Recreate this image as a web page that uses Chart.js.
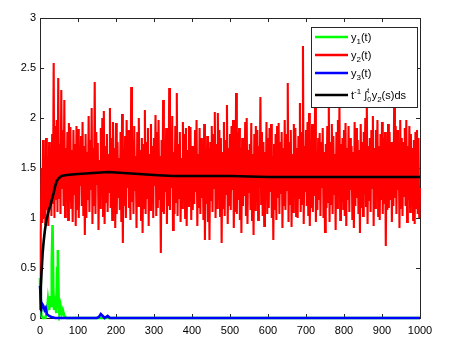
<!DOCTYPE html>
<html>
<head>
<meta charset="utf-8">
<script src="https://cdn.jsdelivr.net/npm/chart.js@4.4.0/dist/chart.umd.min.js"></script>
<style>
html, body { margin: 0; padding: 0; background: #fff; }
</style>
</head>
<body>
<canvas id="chartSolution" width="460" height="351"></canvas>
<script>
// y2(t): upper swings at t = 0, 4, 8, ... and lower swings at t = 2, 6, 10, ...
const y2Highs = [
  0.25, 1.50, 1.78, 1.55, 1.80, 1.62, 1.76, 1.70, 1.84, 2.55,
  1.92, 1.98, 2.40, 1.74, 2.28, 1.88, 2.18, 1.70, 1.86, 1.95,
  1.91, 1.68, 1.88, 1.74, 1.92, 1.89, 1.60, 1.82, 1.96, 1.72,
  1.84, 1.66, 2.02, 1.78, 2.10, 1.70, 2.36, 1.86, 1.75, 1.58,
  1.90, 2.00, 2.07, 1.72, 1.84, 1.64, 2.10, 1.80, 1.96, 1.70,
  1.95, 1.76, 1.60, 1.86, 2.04, 1.70, 1.82, 1.98, 1.88, 1.66,
  2.31, 1.78, 1.92, 1.62, 1.86, 2.00, 1.68, 1.80, 1.74, 2.08,
  1.76, 1.90, 1.64, 1.94, 1.72, 1.80, 2.03, 1.86, 1.98, 1.62,
  1.78, 2.18, 1.70, 1.90, 1.82, 2.30, 1.88, 2.02, 1.66, 1.92,
  2.25, 1.74, 1.86, 1.60, 1.96, 1.84, 1.90, 1.68, 1.92, 1.91,
  1.72, 1.66, 1.88, 1.98, 1.64, 1.90, 1.80, 1.70, 1.94, 1.62,
  1.82, 1.70, 1.76, 1.92, 1.84, 2.06, 1.74, 2.05, 1.88, 1.80,
  1.66, 1.96, 1.78, 2.13, 1.70, 1.84, 1.92, 1.98, 1.64, 2.25,
  1.86, 1.90, 1.70, 1.80, 1.76, 1.96, 2.00, 1.68, 1.74, 1.95,
  1.64, 1.84, 1.92, 1.88, 1.72, 2.21, 1.86, 1.76, 1.66, 1.96,
  1.80, 1.90, 1.94, 1.62, 1.74, 1.84, 1.92, 1.95, 1.76, 1.86,
  1.70, 1.98, 1.84, 2.35, 1.76, 1.88, 1.64, 1.94, 1.90, 1.70,
  1.82, 2.15, 1.86, 2.72, 1.72, 1.88, 1.96, 2.05, 1.68, 1.94,
  1.84, 2.20, 1.64, 1.80, 1.85, 1.76, 1.90, 1.66, 1.74, 1.92,
  2.15, 1.76, 1.94, 1.82, 1.64, 1.86, 1.98, 2.12, 1.74, 1.80,
  1.88, 1.95, 1.70, 1.92, 1.80, 1.72, 1.66, 1.96, 1.90, 1.78,
  1.68, 1.94, 1.76, 1.86, 2.00, 2.20, 1.72, 1.80, 1.88, 2.02,
  1.70, 1.88, 1.98, 1.72, 1.84, 1.96, 1.80, 1.86, 1.62, 1.94,
  1.86, 1.76, 1.70, 2.15, 1.92, 1.88, 1.66, 1.98, 1.80, 1.76,
  1.90, 1.98, 1.72, 1.92, 1.84, 1.70, 1.78, 1.86, 1.88, 1.80,
  1.30
];
const y2Lows = [
  0.85, 0.95, 1.00, 0.93, 1.08, 0.92, 1.10, 1.02, 1.14, 1.00,
  1.18, 1.06, 1.20, 1.04, 1.30, 1.12, 1.01, 1.22, 0.98, 1.16,
  1.10, 0.96, 1.24, 0.92, 1.08, 1.00, 1.32, 1.12, 1.02, 0.83,
  1.00, 1.18, 1.06, 1.28, 0.94, 1.12, 1.04, 1.34, 0.88, 1.10,
  1.22, 1.02, 0.94, 1.16, 1.06, 1.26, 1.10, 0.98, 1.18, 0.90,
  1.04, 1.20, 1.08, 0.96, 0.75, 1.12, 1.00, 1.30, 1.10, 0.98,
  1.16, 1.04, 1.28, 0.90, 1.12, 1.22, 0.98, 0.85, 1.10, 1.04,
  1.20, 0.92, 1.08, 1.14, 1.00, 1.32, 1.02, 1.10, 1.18, 0.65,
  1.06, 1.04, 1.26, 0.94, 1.12, 1.08, 1.30, 0.88, 1.04, 1.16,
  1.02, 1.20, 0.96, 1.10, 1.24, 1.00, 0.92, 1.12, 1.28, 0.98,
  1.08, 1.14, 1.26, 0.92, 1.10, 1.04, 1.20, 0.98, 0.78, 1.14,
  0.96, 0.78, 1.18, 1.06, 1.30, 1.00, 1.10, 1.18, 1.02, 0.75,
  1.10, 1.02, 1.24, 0.94, 1.12, 1.08, 1.28, 0.90, 1.06, 1.04,
  1.18, 0.98, 0.85, 1.12, 1.22, 1.02, 0.94, 1.26, 1.08, 0.98,
  0.83, 1.08, 1.20, 0.98, 1.30, 1.14, 1.02, 0.92, 1.18, 1.04,
  1.10, 1.26, 1.00, 0.78, 1.08, 0.98, 1.20, 1.04, 1.24, 0.90,
  1.12, 1.08, 1.28, 0.96, 1.14, 0.91, 1.06, 1.22, 1.02, 1.00,
  1.20, 1.06, 1.14, 0.94, 1.26, 1.12, 1.02, 0.92, 1.10, 1.06,
  1.22, 0.96, 1.08, 1.18, 1.02, 1.30, 1.00, 0.86, 1.10, 1.16,
  0.96, 1.14, 1.04, 1.24, 0.88, 1.10, 1.20, 0.98, 1.16, 1.08,
  1.02, 0.92, 1.18, 1.06, 1.28, 0.98, 0.90, 1.12, 1.20, 1.04,
  0.85, 1.10, 1.02, 1.24, 1.12, 0.94, 1.18, 1.06, 1.30, 0.92,
  1.10, 1.22, 1.02, 0.98, 1.18, 1.04, 1.14, 0.72, 1.08, 1.10,
  1.18, 0.96, 1.12, 1.20, 1.04, 1.28, 0.90, 1.10, 1.02, 1.22,
  1.12, 0.96, 1.18, 1.06, 1.24, 0.98, 0.94, 1.10, 1.04, 1.00
];

// y1(t): a few short bursts near the start, then zero
const y1Points = [
  [0, 0.40], [2, 0.12], [4, 0.02], [8, 0.0], [14, 0.0], [18, 0.05],
  [21, 0.18], [24, 0.08], [27, 0.22], [29, 0.12], [31, 0.55], [33, 0.93],
  [35, 0.30], [37, 0.08], [40, 0.15], [43, 0.05], [45, 0.50], [47, 0.68],
  [49, 0.20], [51, 0.05], [54, 0.12], [57, 0.04], [60, 0.08], [64, 0.02],
  [70, 0.0], [1000, 0.0]
];

// y3(t)
const y3Points = [
  [0, 0.32], [2, 0.20], [4, 0.10], [6, 0.14], [9, 0.12], [12, 0.08],
  [15, 0.10], [18, 0.04], [24, 0.02], [30, 0.01], [40, 0.0], [150, 0.0],
  [155, 0.01], [160, 0.04], [165, 0.02], [170, 0.0], [178, 0.02], [184, 0.0],
  [1000, 0.0]
];

// time average of y2
const avgPoints = [
  [0, 0.08], [2, 0.30], [4, 0.45], [7, 0.65], [10, 0.78], [13, 0.88],
  [17, 0.98], [22, 1.06], [27, 1.12], [31, 1.18], [36, 1.25], [40, 1.32],
  [44, 1.37], [50, 1.40], [57, 1.42], [70, 1.43], [100, 1.44], [140, 1.45],
  [180, 1.46], [220, 1.45], [260, 1.44], [300, 1.43], [350, 1.42], [400, 1.42],
  [500, 1.42], [600, 1.41], [700, 1.41], [800, 1.41], [900, 1.41], [1000, 1.41]
];

const xTicks = [0, 100, 200, 300, 400, 500, 600, 700, 800, 900, 1000];
const yTicks = [0, 0.5, 1, 1.5, 2, 2.5, 3];

const axisColor = '#262626';
const fontFamily = '"Liberation Sans", Arial, sans-serif';

const toXY = (pts) => pts.map(p => ({ x: p[0], y: p[1] }));

// put the swings back in time order: high at 4k, low at 4k+2
let y2Data = [];
y2Highs.forEach((v, i) => {
  y2Data.push({ x: i * 4, y: v });
  if (i < y2Lows.length) y2Data.push({ x: i * 4 + 2, y: y2Lows[i] });
});

// box + inward ticks, MATLAB style
const boxPlugin = {
  id: 'boxPlugin',
  beforeDatasetsDraw(chart) {
    const ctx = chart.ctx;
    const a = chart.chartArea;
    const xs = chart.scales.x, ys = chart.scales.y;
    ctx.save();
    ctx.strokeStyle = axisColor;
    ctx.lineWidth = 1;
    ctx.strokeRect(a.left + 0.5, a.top + 0.5, a.right - a.left, a.bottom - a.top);
    ctx.beginPath();
    xTicks.forEach(t => {
      const px = Math.round(xs.getPixelForValue(t)) + 0.5;
      ctx.moveTo(px, a.bottom); ctx.lineTo(px, a.bottom - 4);
      ctx.moveTo(px, a.top); ctx.lineTo(px, a.top + 4);
    });
    yTicks.forEach(t => {
      const py = Math.round(ys.getPixelForValue(t)) + 0.5;
      ctx.moveTo(a.left, py); ctx.lineTo(a.left + 4, py);
      ctx.moveTo(a.right, py); ctx.lineTo(a.right - 4, py);
    });
    ctx.stroke();
    ctx.restore();
  },
  afterDraw(chart) {
    drawLegend(chart.ctx);
  }
};

function drawPieces(ctx, x, baseline, pieces) {
  pieces.forEach(p => {
    ctx.font = p.size + 'px ' + fontFamily;
    ctx.fillText(p.t, x, baseline + p.dy);
    x += ctx.measureText(p.t).width;
  });
  return x;
}

function drawLegend(ctx) {
  const x0 = 311, y0 = 27, w = 106, h = 80;
  ctx.save();
  ctx.fillStyle = '#fff';
  ctx.fillRect(x0, y0, w, h);
  ctx.strokeStyle = axisColor;
  ctx.lineWidth = 1;
  ctx.strokeRect(x0 + 0.5, y0 + 0.5, w, h);

  const rows = [
    { color: '#00ff00', y: 37, sub: '1' },
    { color: '#ff0000', y: 55, sub: '2' },
    { color: '#0000ff', y: 73, sub: '3' },
    { color: '#000000', y: 95 }
  ];
  rows.forEach(r => {
    ctx.strokeStyle = r.color;
    ctx.lineWidth = 2.5;
    ctx.beginPath();
    ctx.moveTo(315, r.y); ctx.lineTo(348, r.y);
    ctx.stroke();
    ctx.fillStyle = '#000';
    ctx.textBaseline = 'alphabetic';
    ctx.textAlign = 'left';
    if (r.sub) {
      drawPieces(ctx, 351, r.y + 4, [
        { t: 'y', dy: 0, size: 11 },
        { t: r.sub, dy: 3, size: 8 },
        { t: '(t)', dy: 0, size: 11 }
      ]);
    } else {
      const b = r.y + 4;
      let x = drawPieces(ctx, 351, b, [
        { t: 't', dy: 0, size: 11 },
        { t: '-1', dy: -5, size: 8 },
        { t: ' \u222B', dy: 0, size: 11 }
      ]);
      ctx.font = '7px ' + fontFamily;
      ctx.fillText('t', x, b - 6);
      ctx.fillText('0', x, b + 3);
      x += ctx.measureText('0').width + 0.5;
      drawPieces(ctx, x, b, [
        { t: 'y', dy: 0, size: 11 },
        { t: '2', dy: 3, size: 8 },
        { t: '(s)ds', dy: 0, size: 11 }
      ]);
    }
  });
  ctx.restore();
}

const lineStyle = { pointRadius: 0, tension: 0, fill: false, clip: 3 };

new Chart(document.getElementById('chartSolution'), {
  type: 'line',
  data: {
    datasets: [
      Object.assign({ label: 'avg', data: toXY(avgPoints), borderColor: '#000000', borderWidth: 2.6 }, lineStyle),
      Object.assign({ label: 'y3(t)', data: toXY(y3Points), borderColor: '#0000ff', borderWidth: 2.6 }, lineStyle),
      Object.assign({ label: 'y1(t)', data: toXY(y1Points), borderColor: '#00ff00', borderWidth: 2.6 }, lineStyle),
      Object.assign({ label: 'y2(t)', data: y2Data, borderColor: '#ff0000', borderWidth: 2.1 }, lineStyle)
    ]
  },
  options: {
    responsive: false,
    animation: false,
    devicePixelRatio: 1,
    layout: { padding: { top: 18, right: 40, left: 0, bottom: 0 } },
    plugins: { legend: { display: false }, tooltip: { enabled: false } },
    scales: {
      x: {
        type: 'linear', min: 0, max: 1000,
        afterFit: (s) => { s.height = 33; },
        afterBuildTicks: (s) => { s.ticks = xTicks.map(v => ({ value: v })); },
        grid: { display: false, drawTicks: false },
        border: { display: false },
        ticks: {
          color: '#000', padding: 6, maxRotation: 0,
          font: { family: fontFamily, size: 11 },
          callback: (v) => String(v)
        }
      },
      y: {
        min: 0, max: 3,
        afterFit: (s) => { s.width = 40; },
        afterBuildTicks: (s) => { s.ticks = yTicks.map(v => ({ value: v })); },
        grid: { display: false, drawTicks: false },
        border: { display: false },
        ticks: {
          color: '#000', padding: 4,
          font: { family: fontFamily, size: 11 },
          callback: (v) => String(v)
        }
      }
    }
  },
  plugins: [boxPlugin]
});
</script>
</body>
</html>
